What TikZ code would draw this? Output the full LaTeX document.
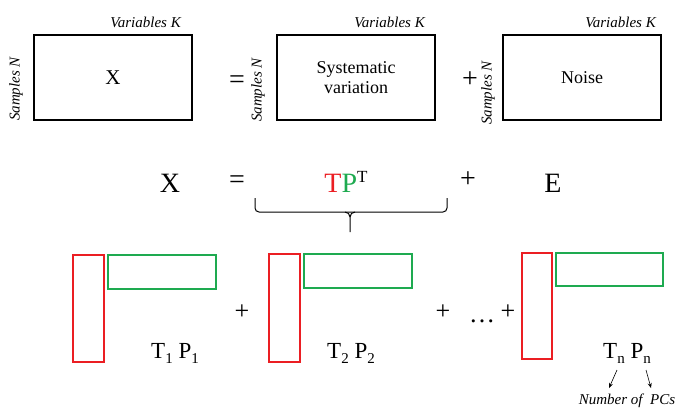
\documentclass[tikz,border=0pt]{standalone}
\usepackage{fontspec}
\setmainfont{Liberation Serif}
\usetikzlibrary{arrows.meta}
\definecolor{tred}{RGB}{235,30,35}
\definecolor{pgreen}{RGB}{30,170,80}
\newcommand{\fs}[1]{\fontsize{#1}{#1}\selectfont}
\newcommand{\sbx}[1]{\raisebox{-5pt}{\fs{15}#1}}
\begin{document}
\begin{tikzpicture}[x=1pt,y=-1pt,
  matbox/.style={draw=black,line width=1.8pt,minimum width=158pt,minimum height=85pt,inner sep=0pt,align=center,font=\fs{18}},
  axlab/.style={font=\fs{15}\itshape,inner sep=0pt},
  sym/.style={font=\fs{28},inner sep=0pt},
  bsym/.style={font=\fs{26},inner sep=0pt},
  bigsym/.style={font=\fs{28},inner sep=0pt},
  tbox/.style={draw=tred,line width=1.6pt,inner sep=0pt},
  pbox/.style={draw=pgreen,line width=1.6pt,inner sep=0pt},
  lab/.style={font=\fs{23},inner sep=0pt},
  pcarrow/.style={-{Stealth[length=5pt,width=4pt]},line width=0.6pt}
]
\useasboundingbox (0,0) rectangle (677,408);
% top row
\node[matbox,font=\fs{21}] (bx) at (113,77.5) {X};
\node[matbox] (bs) at (356,77.5) {Systematic\\[2pt]variation};
\node[matbox] (bn) at (582,77.5) {Noise};
\node[axlab,anchor=base east] (vk1) at (181,27) {Variables K};
\node[axlab,anchor=base east] (vk2) at (425,27) {Variables K};
\node[axlab,anchor=base east] (vk3) at (656,27) {Variables K};
\node[axlab,rotate=90] (sn1) at (16,89) {Samples N};
\node[axlab,rotate=90] (sn2) at (258,90) {Samples N};
\node[axlab,rotate=90] (sn3) at (488,93) {Samples N};
\node[sym] (eq1) at (237,82) {=};
\node[sym] (pl1) at (470,80) {+};
% middle row
\node[bigsym] (mx) at (170,183) {X};
\node[bigsym] (meq) at (237,182) {=};
\node[bigsym] (mtp) at (346,182) {\textcolor{tred}{T}\textcolor{pgreen}{P}\raisebox{10pt}{\fs{17}T}};
\node[bigsym] (mpl) at (468,180) {+};
\node[bigsym] (me) at (553,183) {E};
\draw[line width=1pt,rounded corners=4pt] (255,198) -- (255,212) -- (447,212) -- (447,198);
\draw[line width=1pt] (345,212) to[out=0,in=90] (350,217) -- (350,232);
\draw[line width=1pt] (355,212) to[out=180,in=90] (350,217);
% bottom row
\node[tbox,minimum width=31pt,minimum height=107pt] (t1) at (88.5,308.5) {};
\node[pbox,minimum width=108pt,minimum height=34pt] (p1) at (162,272) {};
\node[tbox,minimum width=31pt,minimum height=108pt] (t2) at (284.5,308) {};
\node[pbox,minimum width=108pt,minimum height=34pt] (p2) at (358,271) {};
\node[tbox,minimum width=30pt,minimum height=106pt] (t3) at (537,306) {};
\node[pbox,minimum width=107pt,minimum height=33pt] (p3) at (609.5,269.5) {};
\node[bsym] (bp1) at (242,312) {+};
\node[bsym] (bp2) at (443,312) {+};
\node[bsym,anchor=base] (dots) at (482,322) {\dots};
\node[bsym] (bp3) at (508,312) {+};
\node[lab,anchor=base] (l1) at (175,358) {T\sbx{1} P\sbx{1}};
\node[lab,anchor=base] (l2) at (351,358) {T\sbx{2} P\sbx{2}};
\node[lab,anchor=base] (l3) at (627,358) {T\sbx{n} P\sbx{n}};
\node[axlab,anchor=base] (npc) at (627,404) {Number of\ \ PCs};
\coordinate (a1s) at (617,370);
\coordinate (a1e) at (609,388);
\coordinate (a2s) at (646,370);
\coordinate (a2e) at (651,388);
\draw[pcarrow] (a1s) -- (a1e);
\draw[pcarrow] (a2s) -- (a2e);
\end{tikzpicture}
\end{document}
